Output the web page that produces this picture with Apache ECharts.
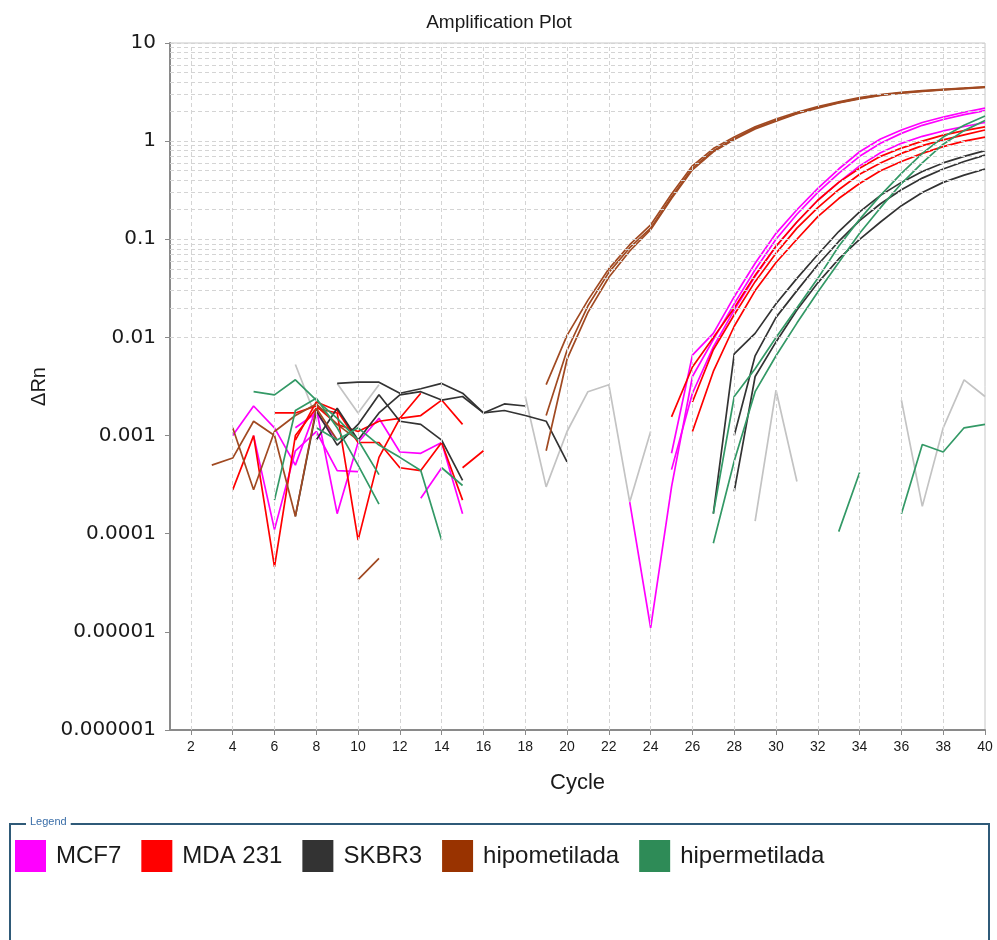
<!DOCTYPE html>
<html>
<head>
<meta charset="utf-8">
<title>Amplification Plot</title>
<script src="https://cdn.jsdelivr.net/npm/echarts@6/dist/echarts.min.js"></script>
<style>
  html, body { margin: 0; padding: 0; background: #ffffff; }
  #chart { width: 997px; height: 940px; }
</style>
</head>
<body>
<div id="chart"></div>
<script>
// ---- Data: ΔRn per cycle for every well (null = not drawn on a log scale) ----
const N = null;
const cycles = [1,2,3,4,5,6,7,8,9,10,11,12,13,14,15,16,17,18,19,20,
                21,22,23,24,25,26,27,28,29,30,31,32,33,34,35,36,37,38,39,40];

const xTickValues = [2,4,6,8,10,12,14,16,18,20,22,24,26,28,30,32,34,36,38,40];
const yTickLabels = ['0.000001','0.00001','0.0001','0.001','0.01','0.1','1','10'];
const yDecades = [0.000001,0.00001,0.0001,0.001,0.01,0.1,1,10];
const yMinorSteps = [2,3,4,5,6,7,8,9];

const sampleNames = ['MCF7','MDA 231','SKBR3','hipometilada','hipermetilada'];
const sampleColors = ['#ff00ff','#ff0000','#333333','#993300','#2e8b57'];
const sampleLineColors = ['#ff00ff','#ff0000','#333333','#a14a22','#339966'];
const otherWellsName = 'Otros';
const otherWellsColor = '#c3c3c3';

const mcf7A = [N,N,N,0.001,0.002,0.0012,0.0005,0.0019,0.00016,0.00085,
  0.0015,0.00068,0.00066,0.00085,0.00016,N,N,N,N,N,
  N,N,N,N,0.00066,0.0066,0.011,0.026,0.057,0.115,
  0.2,0.33,0.52,0.78,1.05,1.3,1.55,1.76,1.97,2.17];
const mcf7B = [N,N,N,N,0.001,0.00011,0.0007,0.0011,0.00044,0.00043,
  N,N,N,N,N,N,N,N,N,N,
  N,N,0.00021,0.000011,0.0003,0.004,0.0095,0.022,0.049,0.1,
  0.18,0.3,0.47,0.7,0.95,1.2,1.45,1.66,1.86,2.05];
const mcf7C = [N,N,N,N,N,N,0.0012,0.0017,0.0009,N,
  N,N,0.00023,0.00047,N,N,N,N,N,N,
  N,N,N,N,0.00045,0.0027,0.008,0.019,0.042,0.085,
  0.15,0.25,0.38,0.56,0.76,0.95,1.12,1.27,1.41,1.55];

const mdaA = [N,N,N,0.00028,0.001,0.000046,0.001,0.0019,0.0017,0.000086,
  0.0006,0.0015,0.0027,N,0.00047,0.0007,N,N,N,N,
  N,N,N,N,0.00155,0.005,0.01,0.02,0.043,0.085,
  0.15,0.25,0.38,0.53,0.7,0.85,1.0,1.15,1.28,1.4];
const mdaB = [N,N,N,N,N,0.0017,0.0017,0.002,0.0013,0.0011,
  0.0014,0.0015,0.0016,0.0023,0.0013,N,N,N,N,N,
  N,N,N,N,N,0.0022,0.0075,0.017,0.037,0.072,
  0.13,0.21,0.32,0.46,0.6,0.75,0.9,1.03,1.16,1.3];
const mdaC = [N,N,N,N,N,N,0.0009,0.0022,0.0018,0.00085,
  0.00085,0.00047,0.00044,0.00085,0.00022,N,N,N,N,N,
  N,N,N,N,N,0.0011,0.0045,0.013,0.03,0.058,
  0.1,0.17,0.26,0.37,0.5,0.62,0.75,0.88,1.0,1.1];

const skbr3A = [N,N,N,N,N,N,N,N,0.0034,0.0035,
  0.0035,0.0027,0.003,0.0034,0.0027,0.0017,0.0021,0.002,N,N,
  N,N,N,N,N,N,0.00016,0.0068,0.011,0.022,
  0.04,0.07,0.12,0.19,0.28,0.38,0.49,0.6,0.7,0.8];
const skbr3B = [N,N,N,N,N,N,0.00015,0.0018,0.0008,0.0013,
  0.0026,0.0014,0.0013,0.0009,0.00035,N,N,N,N,N,
  N,N,N,N,N,N,N,0.001,0.0065,0.016,
  0.03,0.055,0.095,0.155,0.23,0.32,0.42,0.52,0.62,0.72];
const skbr3C = [N,N,N,N,N,N,N,0.0009,0.0019,0.0009,
  0.0017,0.0026,0.0028,0.0023,0.0025,0.0017,0.0018,0.0016,0.0014,0.00054,
  N,N,N,N,N,N,N,0.00027,0.004,0.009,
  0.019,0.036,0.063,0.1,0.15,0.22,0.3,0.38,0.45,0.52];

const hipoA = [N,N,0.0005,0.00059,0.0014,0.001,0.00015,0.0019,0.0009,N,
  N,N,N,N,N,N,N,N,0.0033,0.0105,
  0.024,0.05,0.088,0.14,0.29,0.56,0.84,1.1,1.4,1.68,
  1.97,2.25,2.52,2.78,2.98,3.15,3.27,3.37,3.47,3.58];
const hipoB = [N,N,N,0.0012,0.00028,0.0011,0.0016,0.0021,0.0013,0.0009,
  N,N,N,N,N,N,N,N,0.0016,0.0074,
  0.021,0.046,0.082,0.13,0.27,0.53,0.8,1.06,1.36,1.63,
  1.92,2.2,2.47,2.73,2.94,3.11,3.24,3.35,3.45,3.55];
const hipoC = [N,N,N,N,N,N,N,N,N,0.000034,
  0.000056,N,N,N,N,N,N,N,0.0007,0.006,
  0.018,0.041,0.076,0.125,0.26,0.51,0.78,1.04,1.33,1.6,
  1.9,2.17,2.45,2.7,2.92,3.09,3.22,3.33,3.43,3.52];

const hiperA = [N,N,N,N,0.0028,0.0026,0.0037,0.0023,0.0015,0.0009,
  0.0004,N,N,N,N,N,N,N,N,N,
  N,N,N,N,N,N,0.00016,0.0025,0.0048,0.01,
  0.02,0.04,0.085,0.16,0.28,0.47,0.75,1.1,1.45,1.8];
const hiperB = [N,N,N,N,N,0.00022,0.0018,0.0024,0.0012,0.0005,
  0.0002,N,N,N,N,N,N,N,N,N,
  N,N,N,N,N,N,0.00008,0.00055,0.0028,0.0065,
  0.014,0.029,0.058,0.115,0.21,0.37,0.6,0.93,1.28,1.62];
const hiperC = [N,N,N,N,N,N,N,0.0012,0.0009,0.0012,
  0.0008,0.0006,0.00044,0.000086,N,N,N,N,N,N,
  N,N,N,N,N,N,N,N,N,N,
  N,N,0.000105,0.00042,N,N,N,N,N,N];
const hiperD = [N,N,N,N,N,N,N,N,N,N,
  N,N,N,0.00047,0.00031,N,N,N,N,N,
  N,N,N,N,N,N,N,N,N,N,
  N,N,N,N,N,0.00016,0.00081,0.00068,0.0012,0.0013];

const otherA = [N,N,N,N,N,N,0.0053,0.0015,N,N,
  N,N,N,N,N,N,N,0.0025,0.0003,0.0011,
  0.0028,0.0033,0.00021,0.0011,N,N,N,N,N,N,
  N,N,N,N,N,0.0023,0.00019,0.0012,0.0037,0.0025];
const otherB = [N,N,N,N,N,N,N,N,0.0034,0.0017,
  0.0033,N,N,N,N,N,N,N,N,N,
  N,N,N,N,N,N,N,N,0.000134,0.0029,
  0.00034,N,N,N,N,N,N,N,N,N];

// wells grouped by sample (same order as sampleNames)
const wellsBySample = [
  [mcf7A, mcf7B, mcf7C],
  [mdaA, mdaB, mdaC],
  [skbr3A, skbr3B, skbr3C],
  [hipoA, hipoB, hipoC],
  [hiperA, hiperB, hiperC, hiperD]
];
const otherWells = [otherA, otherB];

// ---- Build the chart ----
const chart = echarts.init(document.getElementById('chart'), null, { renderer: 'canvas' });
const FONT = '"Liberation Sans", Arial, sans-serif';
const TICK_FONT = '"DejaVu Sans", "Liberation Sans", sans-serif';

function wellSeries(name, color, lineColor, values) {
  return {
    name: name,
    type: 'line',
    data: cycles.map((c, i) => [c, values[i]]),
    showSymbol: false,
    symbol: 'none',
    connectNulls: false,
    silent: true,
    lineStyle: { color: lineColor, width: 1.7 },
    itemStyle: { color: color },
    emphasis: { disabled: true },
    z: 3
  };
}

const series = [];

// dashed grid: vertical lines at the labelled cycles, horizontal lines at every log step
const gridLineStyle = { color: '#d4d4d4', width: 1, type: [4, 3] };
const hLines = [];
yDecades.forEach(d => {
  hLines.push({ yAxis: d });
  if (d < 10) yMinorSteps.forEach(m => hLines.push({ yAxis: d * m }));
});
const vLines = xTickValues.filter(v => v < 40).map(v => ({ xAxis: v }));
series.push({
  name: 'grid',
  type: 'line',
  data: [],
  silent: true,
  z: 1,
  markLine: {
    silent: true,
    symbol: 'none',
    label: { show: false },
    lineStyle: gridLineStyle,
    emphasis: { disabled: true },
    animation: false,
    data: hLines.concat(vLines)
  }
});

otherWells.forEach(w => series.push(wellSeries(otherWellsName, otherWellsColor, otherWellsColor, w)));
wellsBySample.forEach((wells, k) => {
  wells.forEach(w => series.push(wellSeries(sampleNames[k], sampleColors[k], sampleLineColors[k], w)));
});

const option = {
  animation: false,
  backgroundColor: '#ffffff',
  title: {
    text: 'Amplification Plot',
    left: 494,
    top: 8,
    textAlign: 'center',
    textStyle: { fontFamily: FONT, fontSize: 19, fontWeight: 'normal', color: '#1a1a1a' }
  },
  grid: {
    left: 170, right: 12, top: 43, bottom: 210,
    show: true, borderColor: '#c6c6c6', borderWidth: 1, backgroundColor: 'transparent'
  },
  legend: {
    data: sampleNames,
    left: 15, top: 840,
    orient: 'horizontal',
    icon: 'rect',
    itemWidth: 31, itemHeight: 32, itemGap: 20,
    padding: 0,
    selectedMode: false,
    textStyle: { fontFamily: FONT, fontSize: 24, color: '#1a1a1a', padding: [0, 0, 0, 5] }
  },
  xAxis: {
    type: 'value',
    min: 1, max: 40,
    name: 'Cycle',
    nameLocation: 'middle',
    nameGap: 42,
    nameTextStyle: { fontFamily: FONT, fontSize: 22, color: '#1a1a1a' },
    axisLine: { show: true, lineStyle: { color: '#8a8a8a', width: 2 } },
    axisTick: { show: true, length: 5, customValues: xTickValues, lineStyle: { color: '#8a8a8a' } },
    axisLabel: { customValues: xTickValues, margin: 10, fontFamily: FONT, fontSize: 14, color: '#1a1a1a' },
    splitLine: { show: false }
  },
  yAxis: {
    type: 'log',
    logBase: 10,
    min: yDecades[0], max: yDecades[yDecades.length - 1],
    name: 'ΔRn',
    nameLocation: 'middle',
    nameGap: 118,
    nameRotate: 90,
    nameTextStyle: { fontFamily: FONT, fontSize: 20, color: '#1a1a1a' },
    axisLine: { show: true, lineStyle: { color: '#8a8a8a', width: 2 } },
    axisTick: { show: true, length: 5, lineStyle: { color: '#8a8a8a' } },
    axisLabel: {
      margin: 14, fontFamily: TICK_FONT, fontSize: 20, color: '#1a1a1a',
      formatter: v => {
        const k = Math.round(Math.log10(v)) - Math.round(Math.log10(yDecades[0]));
        return yTickLabels[k] !== undefined ? yTickLabels[k] : '';
      }
    },
    splitLine: { show: false },
    minorTick: { show: false }
  },
  graphic: [
    {
      type: 'rect',
      shape: { x: 10, y: 824, width: 979, height: 130 },
      style: { fill: 'none', stroke: '#2f5a78', lineWidth: 2 },
      silent: true, z: 0
    },
    {
      type: 'text',
      left: 26, top: 816,
      style: {
        text: 'Legend', fontFamily: FONT, fontSize: 11, fill: '#3a6ea8',
        backgroundColor: '#ffffff', padding: [0, 4, 0, 4]
      },
      silent: true, z: 1
    }
  ],
  series: series
};

chart.setOption(option);
</script>
</body>
</html>
